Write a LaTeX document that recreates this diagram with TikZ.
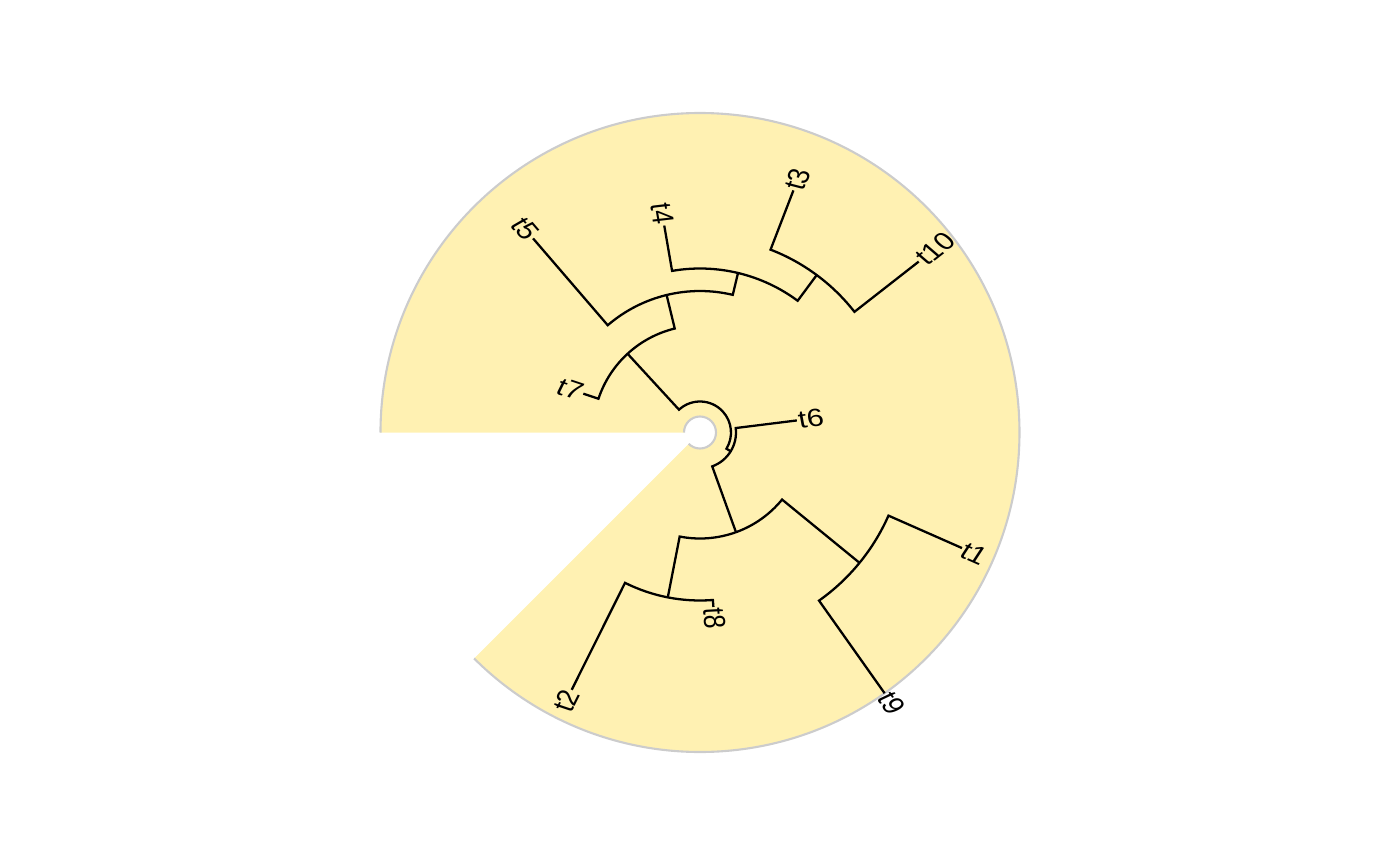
\documentclass[tikz,border=0pt]{standalone}
\usepackage{fontspec}
\setmainfont{Liberation Sans}
\definecolor{fanfill}{RGB}{255,241,178}
\definecolor{fanline}{RGB}{204,204,204}
\tikzset{
  branch/.style={line width=1.3pt, black},
  tiplab/.style={inner sep=0.5pt, font=\fontsize{14.2}{16}\selectfont, xscale=1.22,
    rotate={atan2(1.22*sin(#1),cos(#1))}},
  tipR/.style={tiplab=#1, anchor=west},
  tipL/.style={tiplab=#1, anchor=east},
}

\begin{document}
\begin{tikzpicture}[x=0.02cm, y=0.02cm]

\useasboundingbox (-700,-433.5) rectangle (700,432.5);

% background fan
\fill[fanfill] (180:16) -- (180:319.5) arc[start angle=180, end angle=-135, radius=319.5]
  -- (-135:16) arc[start angle=-135, end angle=180, radius=16] -- cycle;
\draw[fanline, line width=1.2pt] (180:319.5) arc[start angle=180, end angle=-135, radius=319.5];
\draw[fanline, line width=1.2pt] (180:16) arc[start angle=180, end angle=-135, radius=16];

% tips
\node[tipL=-18.4] (t7) at (161.6:123) {t7};
\node[tipL=-49.3] (t5) at (130.7:256) {t5};
\node[tipL=-80.2] (t4) at (99.8:210) {t4};
\node[tipR=68.9] (t3) at (68.9:259.5) {t3};
\node[tipR=38] (t10) at (38:277.6) {t10};
\node[tipR=7.1] (t6) at (7.1:97.6) {t6};
\node[tipR=-23.8] (t1) at (-23.8:286.4) {t1};
\node[tipR=-54.7] (t9) at (-54.7:319.5) {t9};
\node[tipR=-85.6] (t8) at (-85.6:175) {t8};
\node[tipL=63.5] (t2) at (-116.5:287.5) {t2};

% internal nodes
\coordinate (root) at (50.5:31);
\coordinate (a) at (132.6:107);
\coordinate (b) at (103.65:141.5);
\coordinate (c) at (76.6:164);
\coordinate (d) at (53.45:196);
\coordinate (e) at (-31.5:36);
\coordinate (f) at (-70.15:106);
\coordinate (g) at (-101.05:168);
\coordinate (h) at (-39.25:206);

% branches
\draw[branch] (a) -- (132.6:31) arc[start angle=132.6, end angle=-31.5, radius=31] -- (e);
\draw[branch] (t7.east) -- (161.6:107) arc[start angle=161.6, end angle=103.65, radius=107] -- (b);
\draw[branch] (t5.east) -- (130.7:141.5) arc[start angle=130.7, end angle=76.6, radius=141.5] -- (c);
\draw[branch] (t4.east) -- (99.8:164) arc[start angle=99.8, end angle=53.45, radius=164] -- (d);
\draw[branch] (t3.west) -- (68.9:196) arc[start angle=68.9, end angle=38, radius=196] -- (t10.west);

\draw[branch] (t6.west) -- (7.1:36) arc[start angle=7.1, end angle=-70.15, radius=36] -- (f);
\draw[branch] (g) -- (-101.05:106) arc[start angle=-101.05, end angle=-39.25, radius=106] -- (h);
\draw[branch] (t2.east) -- (-116.5:168) arc[start angle=-116.5, end angle=-85.6, radius=168] -- (t8.west);
\draw[branch] (t1.west) -- (-23.8:206) arc[start angle=-23.8, end angle=-54.7, radius=206] -- (t9.west);

\end{tikzpicture}
\end{document}
